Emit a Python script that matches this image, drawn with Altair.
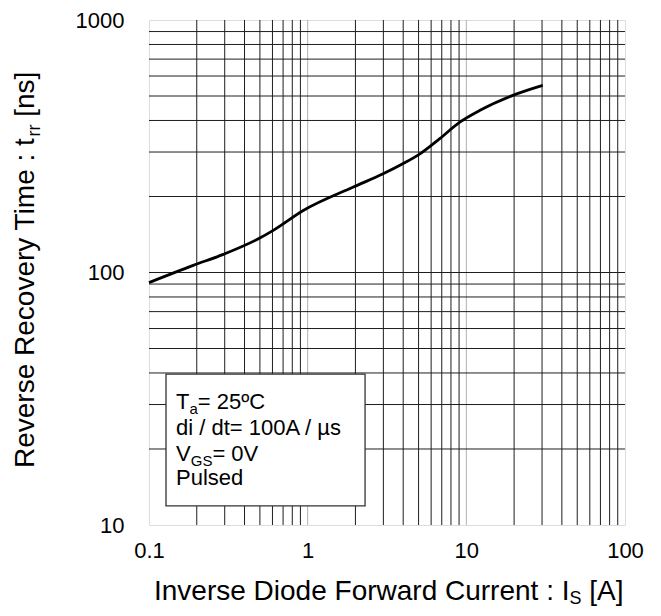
import altair as alt
import pandas as pd

FONT = "Liberation Sans"

# ---- data ----
current = [0.1, 0.19, 0.294, 0.489, 0.607, 0.938, 1.94, 2.99, 4.0, 5.1, 6.8, 9.1, 12.2, 19.8, 30.3]
trr = [91.2, 106.7, 118, 136, 146.9, 176, 218, 246, 270, 295, 339, 394, 439, 504, 551]

mantissas = [2, 3, 4, 5, 6, 7, 8, 9]
x_decades = [0.1, 1, 10]
y_decades = [10, 100]
x_labels = [0.1, 1, 10, 100]
y_labels = [10, 100, 1000]
x_minor = [m * d for d in x_decades for m in mantissas]
x_major_inner = [1, 10]
y_grid = [m * d for d in y_decades for m in mantissas] + [100]
x_domain = [0.1, 100]
y_domain = [10, 1000]

# condition box (data coordinates)
box_x = [0.128, 2.30]
box_y = [11.9, 39.6]
note_x = 0.148
note_y = [28.9, 22.8, 18.0, 14.4]

W, H = 476, 505

xs = alt.Scale(type="log", domain=x_domain, nice=False)
ys = alt.Scale(type="log", domain=y_domain, nice=False)

x_axis = alt.Axis(
    values=x_labels, format="~g", title=None, ticks=False, domain=False, grid=False,
    labelFont=FONT, labelFontSize=22, labelColor="black", labelPadding=15,
    labelFlush=False, labelOverlap=False,
)
y_axis = alt.Axis(
    values=y_labels, format="~g", title=None, ticks=False, domain=False, grid=False,
    labelFont=FONT, labelFontSize=22, labelColor="black", labelPadding=25,
    labelFlush=False, labelOverlap=False,
)


def X(field):
    return alt.X(field, type="quantitative", scale=xs, axis=x_axis)


def Y(field):
    return alt.Y(field, type="quantitative", scale=ys, axis=y_axis)


vgrid_minor = alt.Chart(pd.DataFrame({"v": x_minor})).mark_rule(color="#1e1e1e", strokeWidth=1).encode(x=X("v"))
vgrid_major = alt.Chart(pd.DataFrame({"v": x_major_inner})).mark_rule(color="#b0b0b0", strokeWidth=1).encode(x=X("v"))
hgrid = alt.Chart(pd.DataFrame({"v": y_grid})).mark_rule(color="#1e1e1e", strokeWidth=1).encode(y=Y("v"))

df = pd.DataFrame({"I": current, "t": trr})
line = alt.Chart(df).mark_line(color="black", strokeWidth=2.8, interpolate="monotone").encode(
    x=X("I"), y=Y("t"),
)

box = alt.Chart(pd.DataFrame({"x": [box_x[0]], "x2": [box_x[1]], "y": [box_y[0]], "y2": [box_y[1]]})).mark_rect(
    fill="white", stroke="#333333", strokeWidth=1.3
).encode(x=X("x"), x2="x2:Q", y=Y("y"), y2="y2:Q")


def note(s, yv, size, dx=0, dy=0):
    return alt.Chart(pd.DataFrame({"x": [note_x], "y": [yv]})).mark_text(
        text=s, font=FONT, fontSize=size, align="left", baseline="alphabetic",
        color="black", dx=dx, dy=dy
    ).encode(x=X("x"), y=Y("y"))


def ptext(s, px, py, size, dx=0, dy=0, angle=0):
    kw = dict(text=s, font=FONT, fontSize=size, align="left", baseline="alphabetic",
              color="black", dx=dx, dy=dy)
    if angle:
        kw["angle"] = angle
    return alt.Chart(alt.Data(values=[{}])).mark_text(**kw).encode(x=alt.value(px), y=alt.value(py))


notes = [
    note("T", note_y[0], 22),
    note("a", note_y[0], 15, dx=13.4, dy=5),
    note("= 25ºC", note_y[0], 22, dx=21.8),
    note("di / dt= 100A / µs", note_y[1], 22),
    note("V", note_y[2], 22),
    note("GS", note_y[2], 15, dx=14.7, dy=5),
    note("= 0V", note_y[2], 22, dx=36.4),
    note("Pulsed", note_y[3], 22),
]

TS, SS = 28, 18
SP = 0.278 * TS
xt_w = 14.838 * TS
XT_Y = H + 75
xtitle = [
    ptext("Inverse Diode Forward Current : I", 5, XT_Y, TS),
    ptext("S", 5, XT_Y, SS, dx=xt_w, dy=4),
    ptext("[A]", 5, XT_Y, TS, dx=xt_w + 0.667 * SS + SP),
]
yt_w = 11.836 * TS
ytitle = [
    ptext("Reverse Recovery Time : t", -115, 448, TS, angle=270),
    ptext("rr", -115, 448, SS, dx=yt_w, dy=6, angle=270),
    ptext("[ns]", -115, 448, TS, dx=yt_w + 0.666 * SS + SP, angle=270),
]

chart = alt.layer(vgrid_minor, vgrid_major, hgrid, line, box, *notes, *xtitle, *ytitle).properties(
    width=W, height=H,
    autosize=alt.AutoSizeParams(type="none"),
    padding={"left": 141, "top": 12, "right": 24, "bottom": 82},
).configure_view(stroke="#a8a8a8", strokeWidth=1).configure(background="white")

chart.save("out.html", embed_options={"renderer": "svg", "actions": False})
